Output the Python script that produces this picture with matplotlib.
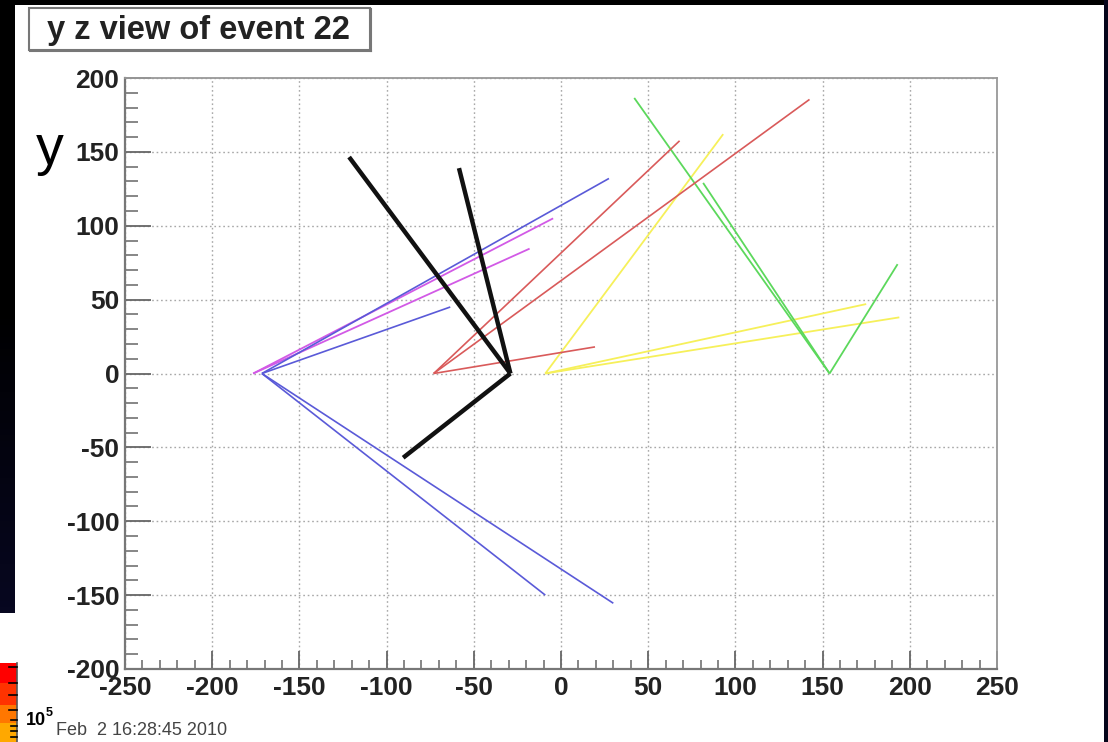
import matplotlib
matplotlib.use("Agg")
import matplotlib.pyplot as plt
from matplotlib.patches import Rectangle
from matplotlib.ticker import MultipleLocator
from matplotlib.colors import LinearSegmentedColormap
import numpy as np

plt.rcParams['font.family'] = ['Liberation Sans', 'DejaVu Sans']
plt.rcParams['axes.unicode_minus'] = False

# ---- data: track vertices and end points (z, y) ----
black_vertex = (-29.0, 0.0)
black_end_z = [-121.5, -58.5, -90.5]
black_end_y = [146.5, 139.0, -57.0]

blue_vertex = (-171.5, 0.0)
blue_end_z = [27.5, -63.5, -9.0, 30.0]
blue_end_y = [132.0, 45.0, -150.0, -155.5]

magenta_vertex = (-176.5, 0.0)
magenta_end_z = [-4.5, -18.0]
magenta_end_y = [105.0, 84.5]

red_vertex = (-73.0, 0.0)
red_end_z = [68.0, 142.5, 19.5]
red_end_y = [157.5, 185.5, 18.0]

yellow_vertex = (-9.0, 0.0)
yellow_end_z = [93.0, 175.0, 194.0]
yellow_end_y = [162.0, 47.0, 38.0]

green_vertex = (154.0, 0.0)
green_end_z = [42.0, 81.5, 193.0]
green_end_y = [186.5, 129.0, 74.0]

x_ticks = [-250, -200, -150, -100, -50, 0, 50, 100, 150, 200, 250]
y_ticks = [-200, -150, -100, -50, 0, 50, 100, 150, 200]

title_text = "y z view of event 22"
date_text = "Feb  2 16:28:45 2010"

W, H = 1108, 742
fig = plt.figure(figsize=(W / 100, H / 100), dpi=100)
fig.patch.set_facecolor('white')

def fx(px):
    return px / W

def fy(py):
    return 1 - py / H

# ---- surrounding screenshot decorations ----
fig.patches.append(Rectangle((0, fy(5)), 1, 5 / H, transform=fig.transFigure,
                             facecolor='black', edgecolor='none', zorder=0))
gax = fig.add_axes([0, fy(613), fx(15), 613 / H])
grad = np.linspace(0, 1, 100).reshape(-1, 1)
cm = LinearSegmentedColormap.from_list('g', ['#000000', '#000000', '#070720'])
gax.imshow(grad, aspect='auto', cmap=cm, extent=[0, 1, 1, 0])
gax.set_axis_off()
fig.patches.append(Rectangle((fx(1104), 0), 4 / W, 1, transform=fig.transFigure,
                             facecolor='#05051a', edgecolor='none', zorder=0))
pal_cols = ['#ff0000', '#ff3300', '#ff7700', '#ffa800']
pal_edges = [663, 683, 705, 723, 742]
for i, c in enumerate(pal_cols):
    fig.patches.append(Rectangle((0, fy(pal_edges[i + 1])), fx(17),
                                 (pal_edges[i + 1] - pal_edges[i]) / H,
                                 transform=fig.transFigure, facecolor=c,
                                 edgecolor='none', zorder=1))
fig.lines.append(plt.Line2D([fx(17), fx(17)], [0, fy(663)], transform=fig.transFigure,
                            color='#555555', lw=1.2))
for ty, ln in [(667, 8), (683, 8), (695, 8), (710, 8), (720, 6), (726, 6), (731, 6), (737, 6)]:
    fig.lines.append(plt.Line2D([fx(17 - ln), fx(17)], [fy(ty), fy(ty)],
                                transform=fig.transFigure, color='black', lw=1.2))
fig.text(fx(26), fy(725), '10', fontsize=13, fontweight='bold', color='black',
         ha='left', va='baseline')
fig.text(fx(46), fy(716), '5', fontsize=9, fontweight='bold', color='black',
         ha='left', va='baseline')
fig.text(fx(56), fy(735), date_text, fontsize=13, color='#444444',
         ha='left', va='baseline')

# title box
fig.patches.append(Rectangle((fx(29), fy(50)), (370 - 29) / W, (50 - 8) / H,
                             transform=fig.transFigure, facecolor='white',
                             edgecolor='#777777', lw=1.5, zorder=2))
fig.lines.append(plt.Line2D([fx(30), fx(371)], [fy(51), fy(51)], transform=fig.transFigure,
                            color='#777777', lw=1.5))
fig.lines.append(plt.Line2D([fx(371), fx(371)], [fy(51), fy(9)], transform=fig.transFigure,
                            color='#777777', lw=1.5))
fig.text(fx(198), fy(30), title_text, fontsize=23.5, fontweight='bold',
         color='#222222', ha='center', va='center', zorder=3)

# y axis label
fig.text(fx(50), fy(150), 'y', fontsize=40, color='black', ha='center', va='center')

# ---- main axes ----
ax = fig.add_axes([fx(125), fy(669), (997 - 125) / W, (669 - 78) / H])
ax.set_xlim(-250, 250)
ax.set_ylim(-200, 200)

def draw_group(vertex, zs, ys, color, lw, z=3):
    for ze, ye in zip(zs, ys):
        ax.plot([vertex[0], ze], [vertex[1], ye], color=color, lw=lw,
                solid_capstyle='butt', zorder=z)

draw_group(yellow_vertex, yellow_end_z, yellow_end_y, '#f6f05a', 1.3)
draw_group(green_vertex, green_end_z, green_end_y, '#5cd85c', 1.3)
draw_group(red_vertex, red_end_z, red_end_y, '#d95a5a', 1.2)
draw_group(magenta_vertex, magenta_end_z, magenta_end_y, '#d25ae6', 1.3)
draw_group(blue_vertex, blue_end_z, blue_end_y, '#5a5ad8', 1.2)
draw_group(black_vertex, black_end_z, black_end_y, '#111111', 3.2, z=4)

ax.set_xticks(x_ticks)
ax.set_yticks(y_ticks)
ax.xaxis.set_minor_locator(MultipleLocator(10))
ax.yaxis.set_minor_locator(MultipleLocator(10))
ax.grid(True, which='major', color='#a8a8a8', linestyle=(0, (1.2, 2.0)), lw=1.0)
ax.tick_params(axis='both', which='both', direction='in', colors='#666666',
               labelcolor='#222222', top=False, right=False)
ax.tick_params(axis='x', which='major', length=13, width=1.3, pad=5, labelsize=19)
ax.tick_params(axis='x', which='minor', length=6.5, width=1.1)
ax.tick_params(axis='y', which='major', length=19, width=1.3, pad=4, labelsize=19)
ax.tick_params(axis='y', which='minor', length=9.5, width=1.1)
for lab in ax.get_xticklabels() + ax.get_yticklabels():
    lab.set_fontweight('bold')
for side in ['left', 'bottom']:
    ax.spines[side].set_color('#777777')
    ax.spines[side].set_linewidth(1.6)
for side in ['top', 'right']:
    ax.spines[side].set_color('#999999')
    ax.spines[side].set_linewidth(1.3)

fig.savefig('out.png', dpi=100, facecolor='white')
